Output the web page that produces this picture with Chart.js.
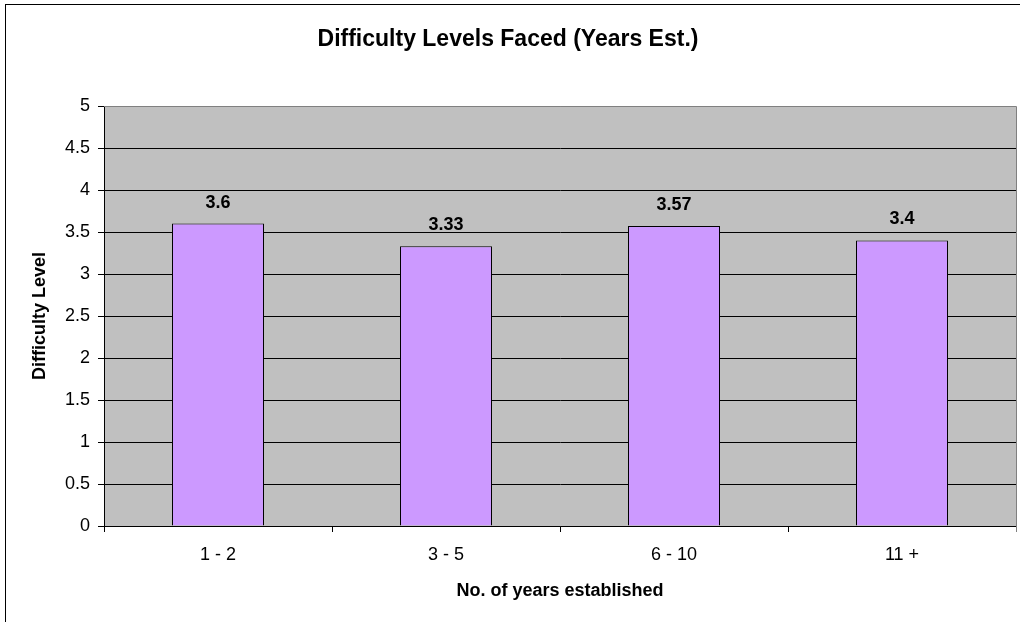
<!DOCTYPE html>
<html>
<head>
<meta charset="utf-8">
<script src="https://cdn.jsdelivr.net/npm/chart.js@4/dist/chart.umd.min.js"></script>
<style>
  html, body { margin: 0; padding: 0; background: #fff; }
  #wrap { width: 1020px; height: 622px; }
</style>
</head>
<body>
<div id="wrap"><canvas id="c" width="1020" height="622"></canvas></div>
<script>
const categories = ["1 - 2", "3 - 5", "6 - 10", "11 +"];
const difficultyValues = [3.6, 3.33, 3.57, 3.4];
const chartTitle = "Difficulty Levels Faced (Years Est.)";
const xAxisTitle = "No. of years established";
const yAxisTitle = "Difficulty Level";
const yMin = 0, yMax = 5, yStep = 0.5;

const FONT = "Arial, 'Liberation Sans', Helvetica, sans-serif";

const plotDecor = {
  id: 'plotDecor',
  beforeDraw(chart) {
    const {ctx, chartArea: a} = chart;
    ctx.save();
    ctx.fillStyle = '#fff';
    ctx.fillRect(0, 0, chart.width, chart.height);
    ctx.fillStyle = '#C0C0C0';
    ctx.fillRect(a.left, a.top, a.right - a.left, a.bottom - a.top);
    ctx.restore();
  },
  afterDraw(chart) {
    const {ctx, chartArea: a} = chart;
    ctx.save();
    ctx.strokeStyle = '#808080';
    ctx.lineWidth = 1;
    ctx.beginPath();
    ctx.moveTo(a.left, Math.round(a.top) + 0.5);
    ctx.lineTo(Math.round(a.right) + 0.5, Math.round(a.top) + 0.5);
    ctx.lineTo(Math.round(a.right) + 0.5, Math.round(a.bottom) + 6);
    ctx.stroke();
    ctx.strokeStyle = '#000';
    ctx.strokeRect(5.5, 4.5, 1200, 1200);
    ctx.restore();
  },
  afterDatasetsDraw(chart) {
    const {ctx} = chart;
    const meta = chart.getDatasetMeta(0);
    ctx.save();
    ctx.fillStyle = '#000';
    ctx.font = "bold 18px " + FONT;
    ctx.textAlign = 'center';
    ctx.textBaseline = 'middle';
    meta.data.forEach((bar, i) => {
      ctx.fillText(String(difficultyValues[i]), bar.x, bar.y - 21);
    });
    ctx.restore();
  }
};

new Chart(document.getElementById('c'), {
  type: 'bar',
  data: {
    labels: categories,
    datasets: [{
      data: difficultyValues,
      backgroundColor: '#CC99FF',
      borderColor: '#000',
      borderWidth: 1,
      barPercentage: 92 / 228,
      categoryPercentage: 1.0
    }]
  },
  options: {
    responsive: false,
    animation: false,
    devicePixelRatio: 1,
    layout: { padding: { left: 0, right: 4, top: 0, bottom: 0 } },
    plugins: {
      legend: { display: false },
      tooltip: { enabled: false },
      title: {
        display: true,
        text: chartTitle,
        color: '#000',
        font: { family: FONT, size: 23, weight: 'bold' },
        padding: { top: 26.2, bottom: 52.2 }
      }
    },
    scales: {
      x: {
        offset: true,
        grid: {
          offset: true,
          drawOnChartArea: false,
          drawTicks: true,
          tickLength: 6,
          tickColor: '#000'
        },
        border: { display: true, color: '#000', width: 1 },
        ticks: {
          color: '#000',
          font: { family: FONT, size: 18 },
          padding: 12,
          maxRotation: 0
        },
        title: {
          display: true,
          text: xAxisTitle,
          color: '#000',
          font: { family: FONT, size: 18, weight: 'bold' },
          padding: { top: 0, bottom: 20.4 }
        },
        afterFit(scale) { scale.height = 96; }
      },
      y: {
        min: yMin,
        max: yMax,
        grid: {
          color: (c) => (c.tick && c.tick.value === yMax) ? '#808080' : '#000',
          lineWidth: 1,
          drawTicks: true,
          tickLength: 6,
          tickColor: '#000'
        },
        border: { display: true, color: '#000', width: 1 },
        ticks: {
          stepSize: yStep,
          color: '#000',
          font: { family: FONT, size: 18 },
          padding: 8,
          callback: (v) => String(v)
        },
        title: {
          display: true,
          text: yAxisTitle,
          color: '#000',
          font: { family: FONT, size: 18, weight: 'bold' },
          padding: { top: 29.2, bottom: 0 }
        },
        afterFit(scale) { scale.width = 104; }
      }
    }
  },
  plugins: [plotDecor]
});
</script>
</body>
</html>
